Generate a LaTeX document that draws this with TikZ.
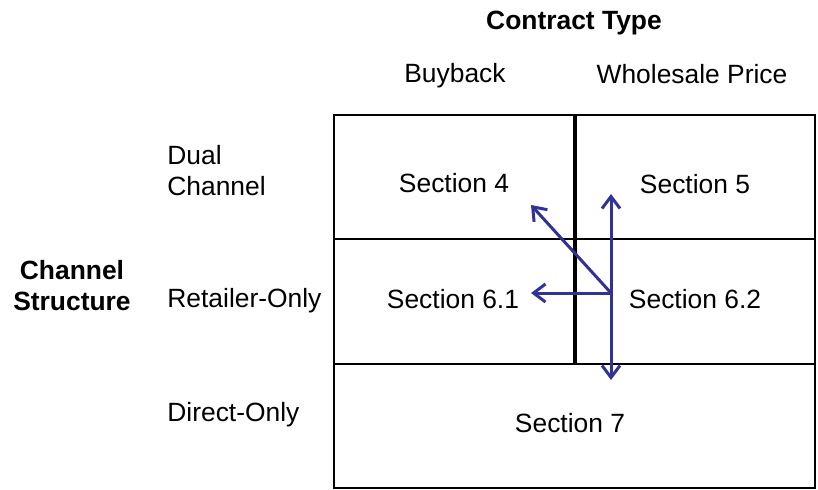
\documentclass[tikz,border=0pt]{standalone}
\usepackage{fontspec}
\setmainfont{Liberation Sans}
\usetikzlibrary{arrows.meta}
\definecolor{arr}{RGB}{50,50,150}
\tikzset{
  txt/.style={font=\fontsize{13.2}{15.5}\selectfont, inner sep=0pt},
  cell/.style={draw=black, line width=0.8pt},
  arw/.style={draw=arr, line width=1.5pt, -{Straight Barb[length=6pt,width=9pt,line width=1.5pt]}}
}
\begin{document}
\begin{tikzpicture}[x=0.5pt,y=-0.5pt]
\useasboundingbox (0,0) rectangle (818,489);
% cells
\draw[cell] (334,115) rectangle (574,364);
\draw[cell] (576,115) rectangle (815,364);
\draw[cell] (334,239) -- (815,239);
\draw[cell] (334,364) rectangle (815,488);
% headers
\node[txt, font=\fontsize{13.2}{15.5}\selectfont\bfseries] (ct) at (574,23) {Contract Type};
\node[txt] (bb) at (455,76) {Buyback};
\node[txt] (wp) at (692,74) {Wholesale Price};
\node[txt, font=\fontsize{13.2}{15.5}\selectfont\bfseries, align=center] (cs) at (72,286) {Channel\\[0pt]Structure};
\node[txt, anchor=west, align=left] (dc) at (167,171) {Dual\\Channel};
\node[txt, anchor=west] (ro) at (167,301) {Retailer-Only};
\node[txt, anchor=west] (do) at (167,415) {Direct-Only};
% sections
\node[txt] (s4) at (454,183) {Section 4};
\node[txt] (s5) at (695,184) {Section 5};
\node[txt] (s61) at (453,299) {Section 6.1};
\node[txt] (s62) at (695,299) {Section 6.2};
\node[txt] (s7) at (570,423) {Section 7};
% arrows
\coordinate (o) at (611,293);
\coordinate (a4) at (531,205);
\coordinate (a61) at (531,293);
\coordinate (a5) at (611,194);
\coordinate (a7) at (611,380);
\draw[arw] (o) -- (a4);
\draw[arw] (o) -- (a61);
\draw[arw] (o) -- (a5);
\draw[arw] (o) -- (a7);
\end{tikzpicture}
\end{document}
